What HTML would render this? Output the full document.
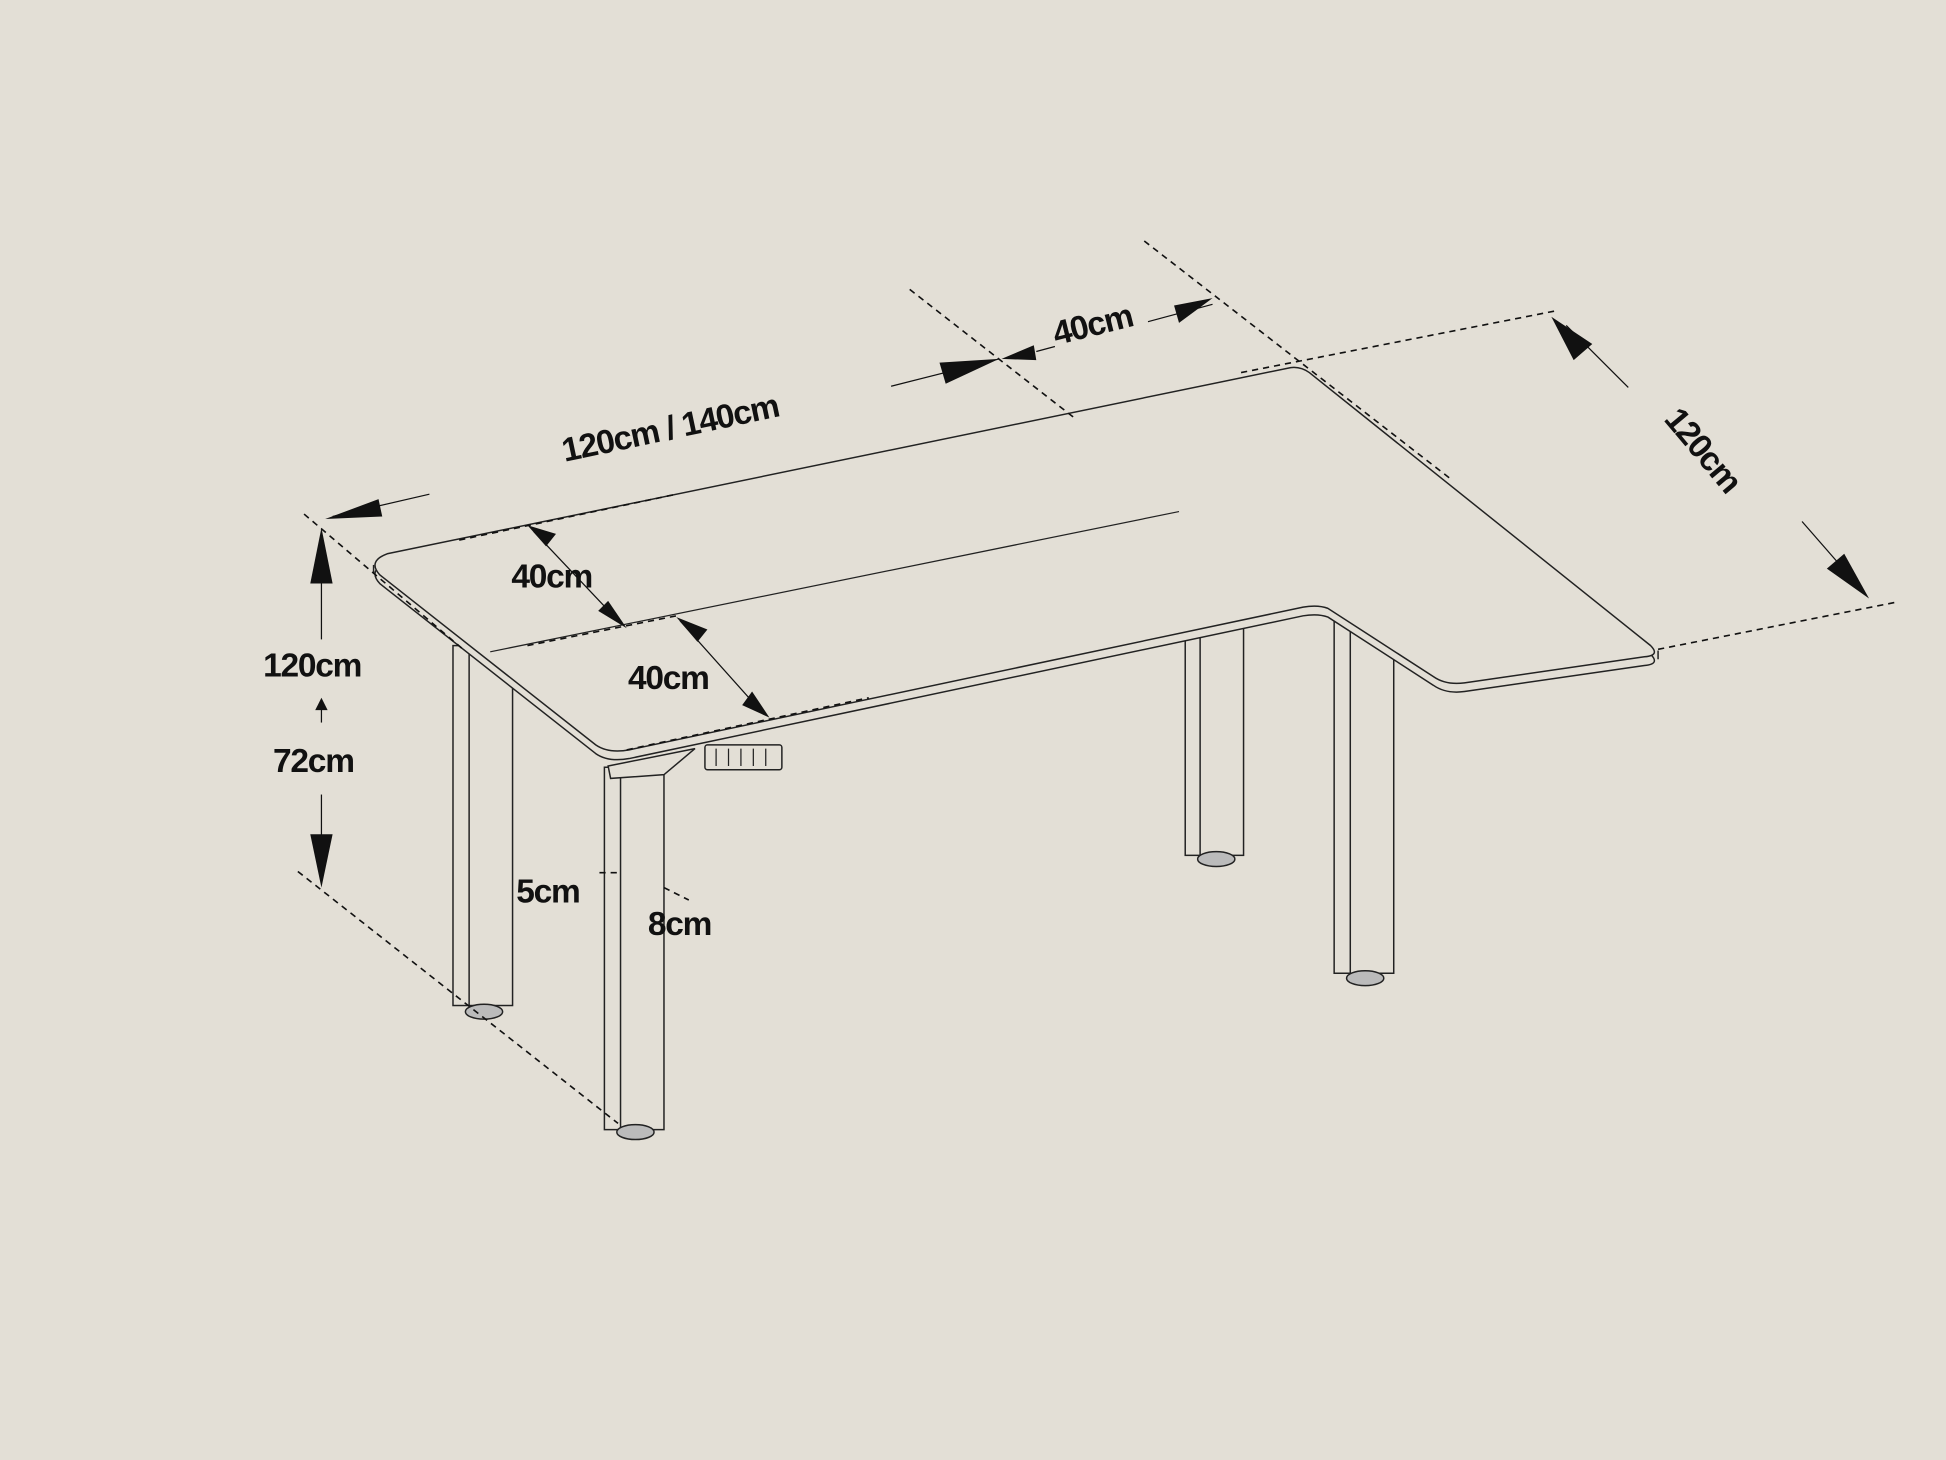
<!DOCTYPE html>
<html><head><style>
html,body{margin:0;padding:0;background:#e3dfd6;}
svg{display:block}
text{font-family:"Liberation Sans",sans-serif;font-weight:bold;fill:#111;font-size:27px;letter-spacing:-1px}
</style></head><body>
<svg width="1946" height="1460" viewBox="0 0 1568 1176" xmlns="http://www.w3.org/2000/svg">
<rect width="1568" height="1176" fill="#e3dfd6"/>
<g fill="#e3dfd6" stroke="#222" stroke-width="1.2">
<!-- legs -->
<rect x="365" y="520" width="48" height="290"/><line x1="378" y1="520" x2="378" y2="810"/>
<ellipse cx="390" cy="815" rx="15" ry="6" fill="#bbb"/>
<rect x="955" y="505" width="47" height="184"/><line x1="967" y1="505" x2="967" y2="689"/>
<ellipse cx="980" cy="692" rx="15" ry="6" fill="#bbb"/>
<rect x="1075" y="495" width="48" height="289"/><line x1="1088" y1="495" x2="1088" y2="784"/>
<ellipse cx="1100" cy="788" rx="15" ry="6" fill="#bbb"/>
<!-- top thickness: shifted copy -->
<path transform="translate(0,7)" d="M312,446 L1040,296 Q1048,295 1055,300 L1330,520 Q1338,528 1325,529 L1180,550 Q1165,552 1155,545 L1070,490 Q1062,487 1050,489 L507,604 Q490,607 480,600 L306,463 Q296,452 312,446 Z"/>
<line x1="301" y1="455" x2="301" y2="462"/>
<line x1="1336" y1="524" x2="1336" y2="531"/>
<!-- top surface -->
<path d="M312,446 L1040,296 Q1048,295 1055,300 L1330,520 Q1338,528 1325,529 L1180,550 Q1165,552 1155,545 L1070,490 Q1062,487 1050,489 L507,604 Q490,607 480,600 L306,463 Q296,452 312,446 Z"/>
<!-- front leg -->
<rect x="487" y="618" width="48" height="292"/><line x1="500" y1="618" x2="500" y2="910"/>
<ellipse cx="512" cy="912" rx="15" ry="6" fill="#bbb"/>
<path d="M490,617 L560,603 L535,624 L492,627 Z"/>
<!-- control panel -->
<rect x="568" y="600" width="62" height="20" rx="2"/>
</g>
<g stroke="#222" stroke-width="1" fill="none">
<line x1="395" y1="525" x2="950" y2="412"/>
<line x1="577" y1="603" x2="577" y2="617"/><line x1="587" y1="603" x2="587" y2="617"/><line x1="597" y1="603" x2="597" y2="617"/><line x1="607" y1="603" x2="607" y2="617"/><line x1="617" y1="603" x2="617" y2="617"/>
</g>
<!-- dashed dimension lines -->
<g stroke="#111" stroke-width="1.3" fill="none" stroke-dasharray="5,4">
<line x1="245" y1="414" x2="372" y2="522"/>
<line x1="240" y1="702" x2="498" y2="905"/>
<line x1="370" y1="435" x2="545" y2="398"/>
<line x1="425" y1="520" x2="545" y2="496"/>
<line x1="505" y1="604" x2="700" y2="562"/>
<line x1="733" y1="233" x2="865" y2="336"/>
<line x1="922" y1="194" x2="1168" y2="385"/>
<line x1="1000" y1="300" x2="1255" y2="250"/>
<line x1="1336" y1="523" x2="1528" y2="485"/>
<line x1="483" y1="703" x2="500" y2="703"/>
<line x1="535" y1="715" x2="555" y2="725"/>
</g>
<g stroke="#111" stroke-width="1" fill="none">
<line x1="718" y1="311" x2="805" y2="289"/>
<line x1="835" y1="283" x2="850" y2="279"/>
<line x1="925" y1="259" x2="977" y2="245"/>
<line x1="268" y1="416" x2="346" y2="398"/>
<line x1="259" y1="445" x2="259" y2="515"/>
<line x1="259" y1="640" x2="259" y2="700"/>
<line x1="259" y1="566" x2="259" y2="582"/>
<line x1="1262" y1="262" x2="1312" y2="312"/>
<line x1="1452" y1="420" x2="1500" y2="475"/>
<line x1="430" y1="428" x2="500" y2="502"/>
<line x1="548" y1="500" x2="615" y2="575"/>
</g>
<!-- arrowheads -->
<g fill="#111">
<polygon points="262,418 305,402 308,416"/>
<polygon points="259,425 250,470 268,470"/>
<polygon points="259,715 250,672 268,672"/>
<polygon points="259,562 254,572 264,572"/>
<polygon points="805,289 757,292 762,309"/>
<polygon points="807,289 833,278 835,290"/>
<polygon points="977,240 946,246 950,260"/>
<polygon points="1250,255 1268,290 1283,277"/>
<polygon points="1506,482 1472,458 1486,446"/>
<polygon points="425,423 440,440 448,430"/>
<polygon points="505,506 482,492 490,484"/>
<polygon points="545,497 562,517 570,507"/>
<polygon points="620,578 598,568 606,557"/>
</g>
<text x="455" y="372" transform="rotate(-12 455 372)">120cm / 140cm</text>
<text x="851" y="278" transform="rotate(-14 851 278)">40cm</text>
<text x="1340" y="338" transform="rotate(50 1340 338)">120cm</text>
<text x="412" y="473">40cm</text>
<text x="506" y="555">40cm</text>
<text x="212" y="545">120cm</text>
<text x="220" y="622">72cm</text>
<text x="416" y="727">5cm</text>
<text x="522" y="753">8cm</text>
</svg>
</body></html>
